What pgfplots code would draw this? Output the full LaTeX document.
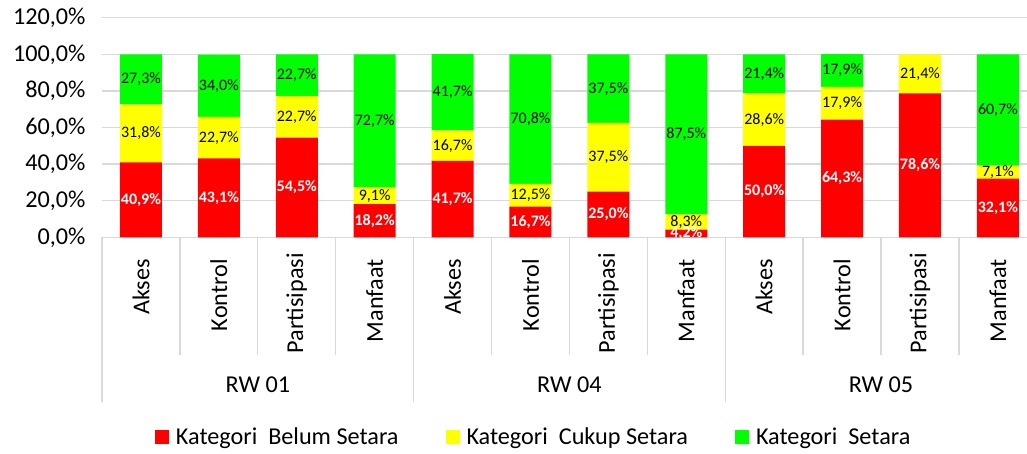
\documentclass[border=0pt]{standalone}
\usepackage{fontspec}
\setmainfont{Carlito}
\usepackage{pgfplots}
\pgfplotsset{compat=1.18}
\definecolor{cred}{HTML}{FF0000}
\definecolor{cyel}{HTML}{FFFF00}
\definecolor{cgrn}{HTML}{00FF00}
\definecolor{gridc}{HTML}{D9D9D9}
\newcommand{\bigf}{\fontsize{24.2}{29}\selectfont}
\newcommand{\lblf}{\fontsize{16}{19}\selectfont}
\begin{document}
\begin{tikzpicture}
\useasboundingbox (0,0) rectangle (1027pt,-453pt);
\begin{axis}[
  at={(102pt,-237.3pt)}, anchor=south west,
  scale only axis, width=925pt, height=219.6pt,
  xmin=-0.5, xmax=11.374, ymin=0, ymax=120,
  ybar stacked, bar width=42pt,
  axis line style={draw=none},
  ytick={0,20,40,60,80,100,120},
  yticklabels={{0,0\%},{20,0\%},{40,0\%},{60,0\%},{80,0\%},{100,0\%},{120,0\%}},
  ymajorgrids, grid style={draw=gridc, line width=1.3pt},
  xtick=\empty,
  major tick length=0pt,
  yticklabel style={font=\bigf, xshift=-13pt},
  clip=false,
  legend style={at={(0.057,-0.9094)}, anchor=west, legend columns=3,
    draw=none, fill=none, font=\bigf, inner sep=0pt, nodes={inner sep=3pt},
    /tikz/every odd column/.append style={column sep=4pt},
    /tikz/every even column/.append style={column sep=44pt}},
]
\addplot[fill=cred, draw=none, legend image code/.code={\fill[cred] (0pt,-7pt) rectangle (14pt,7pt);}] coordinates {
(0,40.9) (1,43.1) (2,54.5) (3,18.2) (4,41.7) (5,16.7) (6,25.0) (7,4.2) (8,50.0) (9,64.3) (10,78.6) (11,32.1)};
\addlegendentry{Kategori\ \ Belum Setara}
\addplot[fill=cyel, draw=none, legend image code/.code={\fill[cyel] (0pt,-7pt) rectangle (14pt,7pt);}] coordinates {
(0,31.8) (1,22.7) (2,22.7) (3,9.1) (4,16.7) (5,12.5) (6,37.5) (7,8.3) (8,28.6) (9,17.9) (10,21.4) (11,7.1)};
\addlegendentry{Kategori\ \ Cukup Setara}
\addplot[fill=cgrn, draw=none, legend image code/.code={\fill[cgrn] (0pt,-7pt) rectangle (14pt,7pt);}] coordinates {
(0,27.3) (1,34.0) (2,22.7) (3,72.7) (4,41.7) (5,70.8) (6,37.5) (7,87.5) (8,21.4) (9,17.9) (10,0) (11,60.7)};
\addlegendentry{Kategori\ \ Setara}
\end{axis}
\begin{axis}[
  at={(102pt,-237.3pt)}, anchor=south west,
  scale only axis, width=925pt, height=219.6pt,
  xmin=-0.5, xmax=11.374, ymin=0, ymax=120,
  hide axis, clip=false,
]
\addplot[draw=none, nodes near coords={\pgfplotspointmeta\%}, point meta=explicit symbolic,
  every node near coord/.append style={anchor=center, font=\lblf\bfseries, text=white, inner sep=0pt}]
  table[meta=lab] {
x y lab
0 20.45 40,9
1 21.55 43,1
2 27.25 54,5
3 9.1 18,2
4 20.85 41,7
5 8.35 16,7
6 12.5 25,0
7 2.1 4,2
8 25 50,0
9 32.15 64,3
10 39.3 78,6
11 16.05 32,1
};
\addplot[draw=none, nodes near coords={\pgfplotspointmeta\%}, point meta=explicit symbolic,
  every node near coord/.append style={anchor=center, font=\lblf, text=black, inner sep=0pt}]
  table[meta=lab] {
x y lab
0 56.8 31,8
1 54.45 22,7
2 65.85 22,7
3 22.75 9,1
4 50.05 16,7
5 22.95 12,5
6 43.75 37,5
7 8.35 8,3
8 64.3 28,6
9 73.25 17,9
10 89.3 21,4
11 35.65 7,1
};
\addplot[draw=none, nodes near coords={\pgfplotspointmeta\%}, point meta=explicit symbolic,
  every node near coord/.append style={anchor=center, font=\lblf, text=black, inner sep=0pt}]
  table[meta=lab] {
x y lab
0 86.35 27,3
1 82.8 34,0
2 88.55 22,7
3 63.65 72,7
4 79.25 41,7
5 64.6 70,8
6 81.25 37,5
7 56.25 87,5
8 89.3 21,4
9 91.15 17,9
11 69.55 60,7
};
\end{axis}
\foreach \k in {1,2,3,5,6,7,9,10,11}
  \draw[gridc, line width=1.3pt] ({102pt+77.9pt*\k},-237.3pt) -- ++(0,-118pt);
\foreach \k in {0,4,8,12}
  \draw[gridc, line width=1.3pt] ({102pt+77.9pt*\k},-237.3pt) -- ++(0,-165pt);
\foreach \lab/\k/\yy in {Akses/0/259, Kontrol/1/259, Partisipasi/2/253, Manfaat/3/259,
  Akses/4/259, Kontrol/5/259, Partisipasi/6/253, Manfaat/7/259,
  Akses/8/259, Kontrol/9/259, Partisipasi/10/253, Manfaat/11/259}
  \node[rotate=90, anchor=east, inner sep=0pt, font=\bigf] at ({102pt+77.9pt*(\k+0.5)}, {-\yy*1pt}) {\lab};
\foreach \lab/\k in {RW 01/2, RW 04/6, RW 05/10}
  \node[font=\bigf] at ({102pt+77.9pt*\k}, -385pt) {\lab};
\end{tikzpicture}
\end{document}
